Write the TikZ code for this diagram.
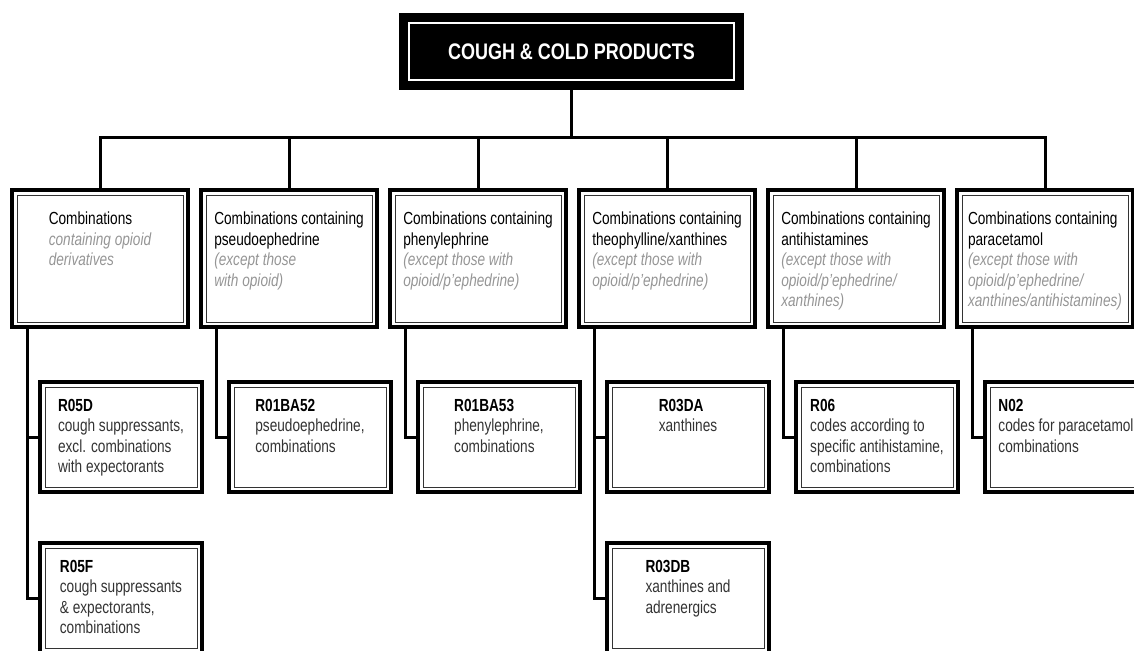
\documentclass[tikz,border=0pt]{standalone}
\usepackage{fontspec}
\setmainfont{Liberation Sans}[FakeStretch=0.78]
\newfontfamily\titlefont{Liberation Sans}[FakeStretch=0.8]
\usetikzlibrary{positioning}

\definecolor{notegray}{HTML}{959595}
\definecolor{descgray}{HTML}{333333}
\newcommand{\cnote}[1]{\textcolor{notegray}{\itshape #1}}
\newcommand{\ccode}[1]{\textcolor{black}{\bfseries #1}}

\begin{document}
\begin{tikzpicture}[x=1pt,y=-1pt,
  link/.style={line width=3pt},
  framed/.style={draw,line width=4pt,inner sep=0pt,
    path picture={\draw[line width=1pt,black!80]
      ([shift={(5pt,5pt)}]path picture bounding box.south west) rectangle
      ([shift={(-5pt,-5pt)}]path picture bounding box.north east);}},
  catbox/.style={framed,minimum width=176pt,minimum height=137pt},
  codebox/.style={framed,minimum width=162pt,minimum height=110pt},
  cattext/.style={anchor=north,align=left,inner sep=0pt,
    font=\fontsize{17.5}{20.5}\selectfont},
  codetext/.style={cattext,text=descgray},
  titlebox/.style={fill=black,text=white,inner sep=0pt,
    minimum width=345pt,minimum height=77pt,
    font=\titlefont\bfseries\fontsize{22.5}{24}\selectfont,
    path picture={\draw[white,line width=2.5pt]
      ([shift={(10pt,10pt)}]path picture bounding box.south west) rectangle
      ([shift={(-10pt,-10pt)}]path picture bounding box.north east);}}
]

\useasboundingbox (0,0) rectangle (1134,650);
\clip (0,0) rectangle (1134,650);

\node[titlebox] (title) at (571.5,51.5) {COUGH \& COLD PRODUCTS};

\foreach \i/\x in {1/100,2/289,3/478,4/667,5/856,6/1045}
  \node[catbox] (cat\i) at (\x,258.5) {};

\node[cattext,below=24pt of cat1.north] {Combinations\\\cnote{containing opioid}\\\cnote{derivatives}};
\node[cattext,below=24pt of cat2.north] {Combinations containing\\pseudoephedrine\\\cnote{(except those}\\\cnote{with opioid)}};
\node[cattext,below=24pt of cat3.north] {Combinations containing\\phenylephrine\\\cnote{(except those with}\\\cnote{opioid/p'ephedrine)}};
\node[cattext,below=24pt of cat4.north] {Combinations containing\\theophylline/xanthines\\\cnote{(except those with}\\\cnote{opioid/p'ephedrine)}};
\node[cattext,below=24pt of cat5.north] {Combinations containing\\antihistamines\\\cnote{(except those with}\\\cnote{opioid/p'ephedrine/}\\\cnote{xanthines)}};
\node[cattext,below=24pt of cat6.north] {Combinations containing\\paracetamol\\\cnote{(except those with}\\\cnote{opioid/p'ephedrine/}\\\cnote{xanthines/antihistamines)}};

\begin{scope}
  \node[codebox] (r05d) at (121,437) {};
  \node[codebox] (r05f) at (121,598) {};
  \node[codebox] (r01ba52) at (310,437) {};
  \node[codebox] (r01ba53) at (499,437) {};
  \node[codebox] (r03da) at (688,437) {};
  \node[codebox] (r03db) at (688,598) {};
  \node[codebox] (r06) at (877,437) {};
  \node[codebox] (n02) at (1066,437) {};
\end{scope}

\node[codetext,below=19pt of r05d.north] {\ccode{R05D}\\cough suppressants,\\excl. combinations\\with expectorants};
\node[codetext,below=19pt of r05f.north] {\ccode{R05F}\\cough suppressants\\\& expectorants,\\combinations};
\node[codetext,below=19pt of r01ba52.north] {\ccode{R01BA52}\\pseudoephedrine,\\combinations};
\node[codetext,below=19pt of r01ba53.north] {\ccode{R01BA53}\\phenylephrine,\\combinations};
\node[codetext,below=19pt of r03da.north] {\ccode{R03DA}\\xanthines};
\node[codetext,below=19pt of r03db.north] {\ccode{R03DB}\\xanthines and\\adrenergics};
\node[codetext,below=19pt of r06.north] {\ccode{R06}\\codes according to\\specific antihistamine,\\combinations};
\node[codetext,below=19pt of n02.north] {\ccode{N02}\\codes for paracetamol\\combinations};

\coordinate (bar) at (571.5,137);
\draw[link] (title.south) -- (bar);
\foreach \i in {1,...,6}
  \draw[link] (bar) -| (cat\i.north);

\draw[link] ([xshift=-73pt]cat1.south) |- (r05d.west);
\draw[link] ([xshift=-73pt]cat1.south) |- (r05f.west);
\draw[link] ([xshift=-73pt]cat2.south) |- (r01ba52.west);
\draw[link] ([xshift=-73pt]cat3.south) |- (r01ba53.west);
\draw[link] ([xshift=-73pt]cat4.south) |- (r03da.west);
\draw[link] ([xshift=-73pt]cat4.south) |- (r03db.west);
\draw[link] ([xshift=-73pt]cat5.south) |- (r06.west);
\draw[link] ([xshift=-73pt]cat6.south) |- (n02.west);

\end{tikzpicture}
\end{document}
